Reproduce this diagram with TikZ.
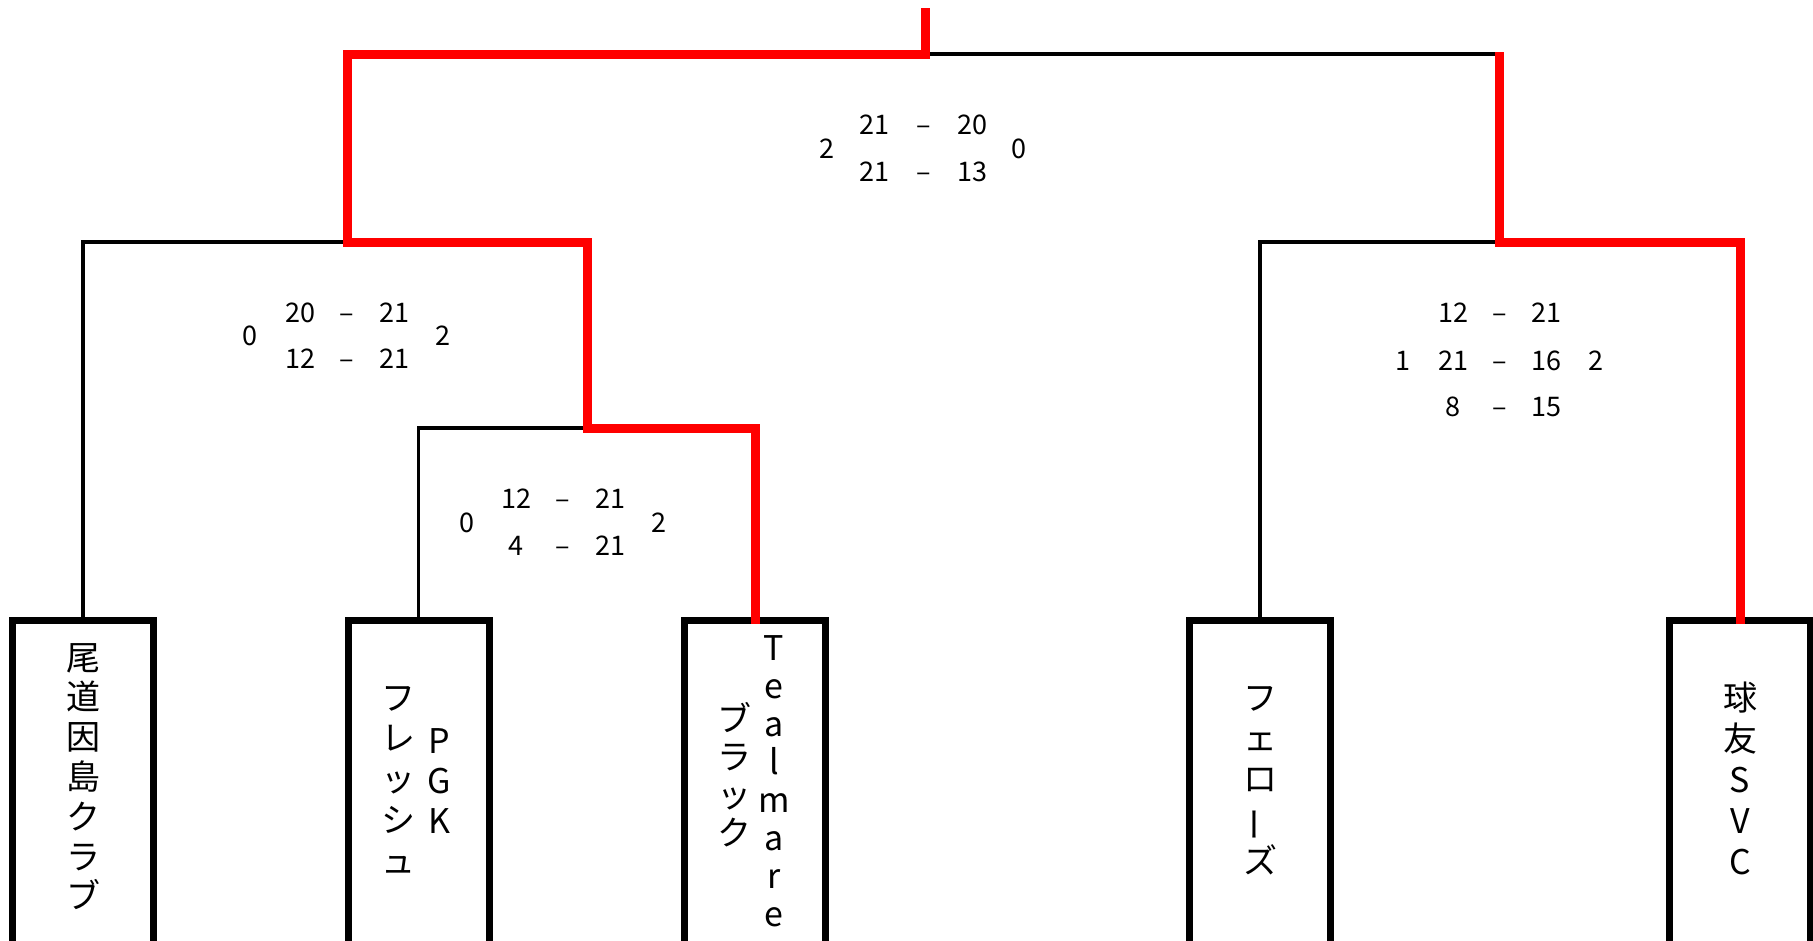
\documentclass[tikz,border=0pt]{standalone}
\usepackage{fontspec}
\setmainfont{Noto Sans CJK JP}
\usepackage{graphicx}
\newcommand\chouon{\rotatebox[origin=c]{90}{ー}}
% vertical column of characters: name, x, first centre y, step, list
\newcommand\vcol[5]{\foreach \c [count=\i from 0] in {#5} {\node[ch] (#1\i) at (#2,{#3+\i*#4+13}) {\c};}}
\newcommand\scoretxt[4]{\node[sc] (#1) at (#2,{#3+10}) {#4};}
\begin{document}
\begin{tikzpicture}[x=1pt,y=-1pt,
  thinline/.style={line width=3.5pt, black},
  winline/.style={line width=9pt, red, line join=miter},
  teambox/.style={draw, line width=7pt, minimum width=141pt, minimum height=340pt, inner sep=0pt, anchor=north},
  ch/.style={font=\fontsize{34}{34}\selectfont, inner sep=0pt, anchor=base},
  sc/.style={font=\fontsize{27}{27}\selectfont, inner sep=0pt, anchor=base}]
\useasboundingbox (0,0) rectangle (1813,940);
\fill[white] (0,0) rectangle (1813,940);
\clip (0,0) rectangle (1813,940);

% junctions
\coordinate (top) at (925,8);
\coordinate (f) at (925,54);
\coordinate (sL) at (347,54);
\coordinate (sR) at (1499,54);
\coordinate (qL) at (347,242);
\coordinate (q1) at (83,242);
\coordinate (q2) at (587,242);
\coordinate (r2) at (587,428);
\coordinate (r2a) at (418.5,428);
\coordinate (r2b) at (755,428);
\coordinate (qR1) at (1260,242);
\coordinate (qRm) at (1499,242);
\coordinate (qR2) at (1740,242);

% team boxes
\node[teambox] (b1) at (83,616.5) {};
\node[teambox] (b2) at (418.5,616.5) {};
\node[teambox] (b3) at (755,616.5) {};
\node[teambox] (b4) at (1260,616.5) {};
\node[teambox] (b5) at (1740,616.5) {};

% losing (black) lines
\draw[thinline] (f) -- (sR);
\draw[thinline] (b1.north) -- (q1) -- (qL);
\draw[thinline] (b2.north) -- (r2a) -- (r2);
\draw[thinline] (b4.north) -- (qR1) -- (qRm);

% winning (red) lines
\draw[winline, shorten >=-7pt] (top) -- (f) -- (sL) -- (qL) -- (q2) -- (r2) -- (r2b) -- (b3.north);
\draw[winline, shorten >=-7pt] ([yshift=2pt]sR) -- (qRm) -- (qR2) -- (b5.north);

% team names (vertical)
\vcol{n1-}{83}{657}{39.8}{尾,道,因,島,ク,ラ,ブ}
\vcol{n2a-}{439}{740}{40}{P,G,K}
\vcol{n2b-}{398}{697}{40.75}{フ,レ,ッ,シ,ュ}
\vcol{n3a-}{774}{647}{38}{T,e,a,l,m,a,r,e}
\vcol{n3b-}{734}{718}{38.3}{ブ,ラ,ッ,ク}
\vcol{n4-}{1260}{697}{40.75}{フ,ェ,ロ,{\chouon},ズ}
\vcol{n5-}{1740}{697}{41}{球,友,S,V,C}

% final scores
\scoretxt{t0}{827}{148}{2}
\scoretxt{t1}{874}{124}{21}
\scoretxt{t2}{924}{124}{–}
\scoretxt{t3}{972}{124}{20}
\scoretxt{t4}{874}{171}{21}
\scoretxt{t5}{924}{171}{–}
\scoretxt{t6}{972}{171}{13}
\scoretxt{t7}{1019}{148}{0}

% left semifinal
\scoretxt{l0}{250}{335}{0}
\scoretxt{l1}{300}{312}{20}
\scoretxt{l2}{347}{312}{–}
\scoretxt{l3}{394}{312}{21}
\scoretxt{l4}{300}{358}{12}
\scoretxt{l5}{347}{358}{–}
\scoretxt{l6}{394}{358}{21}
\scoretxt{l7}{443}{335}{2}

% first round
\scoretxt{m0}{467}{522}{0}
\scoretxt{m1}{516}{498}{12}
\scoretxt{m2}{563}{498}{–}
\scoretxt{m3}{610}{498}{21}
\scoretxt{m4}{516}{545}{4}
\scoretxt{m5}{563}{545}{–}
\scoretxt{m6}{610}{545}{21}
\scoretxt{m7}{659}{522}{2}

% right semifinal
\scoretxt{r0}{1453}{312}{12}
\scoretxt{r1}{1500}{312}{–}
\scoretxt{r2}{1546}{312}{21}
\scoretxt{r3}{1403}{360}{1}
\scoretxt{r4}{1453}{360}{21}
\scoretxt{r5}{1500}{360}{–}
\scoretxt{r6}{1546}{360}{16}
\scoretxt{r7}{1596}{360}{2}
\scoretxt{r8}{1453}{406}{8}
\scoretxt{r9}{1500}{406}{–}
\scoretxt{r10}{1546}{406}{15}
\end{tikzpicture}
\end{document}
